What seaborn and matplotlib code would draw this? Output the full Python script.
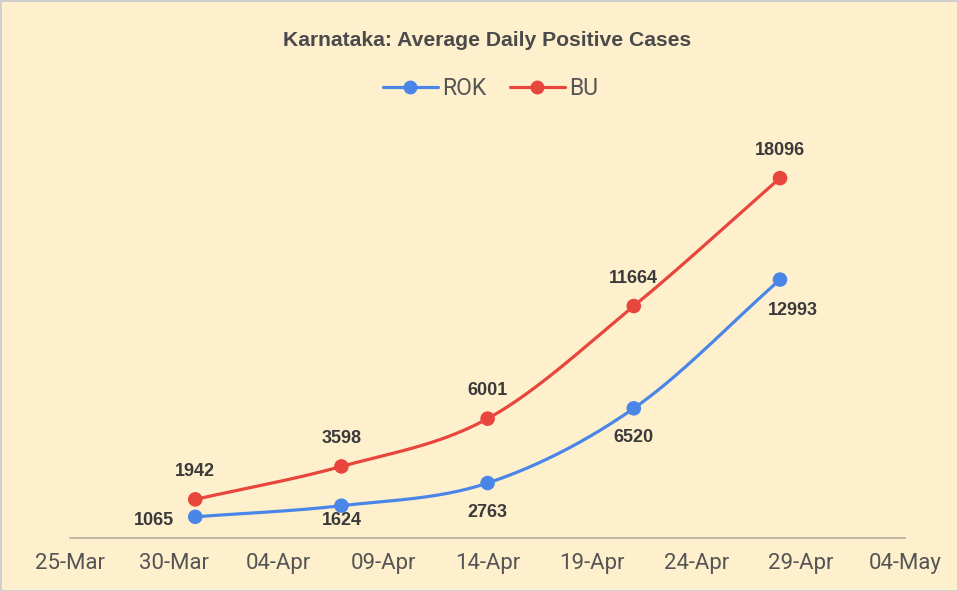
import numpy as np
import pandas as pd
import matplotlib
matplotlib.use("Agg")
import matplotlib.pyplot as plt
import matplotlib.dates as mdates
from matplotlib.lines import Line2D
import seaborn as sns

# ---- data ----
dates = ["2021-03-31", "2021-04-07", "2021-04-14", "2021-04-21", "2021-04-28"]
rok = [1065, 1624, 2763, 6520, 12993]
bu = [1942, 3598, 6001, 11664, 18096]
tick_dates = ["2021-03-25", "2021-03-30", "2021-04-04", "2021-04-09", "2021-04-14",
              "2021-04-19", "2021-04-24", "2021-04-29", "2021-05-04"]
title = "Karnataka: Average Daily Positive Cases"

BG = "#FEF0CD"
BLUE = "#4A86E8"
RED = "#E8453C"

sns.set_theme(style="white")
plt.rcParams["font.family"] = ["Roboto", "DejaVu Sans"]
BOLD = ["Liberation Sans", "DejaVu Sans"]

fig = plt.figure(figsize=(9.58, 5.91), dpi=100, facecolor=BG)
fig.patch.set_edgecolor("#cfcfcf")
fig.patch.set_linewidth(2)
ax = fig.add_axes([0.073, 0.0897, 0.872, 0.673])
ax.set_facecolor(BG)

x = mdates.date2num(pd.to_datetime(dates))


def smooth(xs, ys, n=40):
    xs = np.asarray(xs, float)
    ys = np.asarray(ys, float)
    m = np.zeros_like(ys)
    m[1:-1] = (ys[2:] - ys[:-2]) / (xs[2:] - xs[:-2])
    m[0] = (ys[1] - ys[0]) / (xs[1] - xs[0])
    m[-1] = (ys[-1] - ys[-2]) / (xs[-1] - xs[-2])
    ox, oy = [], []
    for i in range(len(xs) - 1):
        h = xs[i + 1] - xs[i]
        t = np.linspace(0, 1, n, endpoint=(i == len(xs) - 2))
        h00 = 2 * t**3 - 3 * t**2 + 1
        h10 = t**3 - 2 * t**2 + t
        h01 = -2 * t**3 + 3 * t**2
        h11 = t**3 - t**2
        ox.append(xs[i] + t * h)
        oy.append(h00 * ys[i] + h10 * h * m[i] + h01 * ys[i + 1] + h11 * h * m[i + 1])
    return np.concatenate(ox), np.concatenate(oy)


for vals, col in [(rok, BLUE), (bu, RED)]:
    sx, sy = smooth(x, vals)
    sns.lineplot(x=sx, y=sy, ax=ax, color=col, linewidth=2.3, sort=False, zorder=2)
    sns.scatterplot(x=x, y=vals, ax=ax, color=col, s=110, edgecolor="none", zorder=3)

ax.set_xlim(mdates.date2num(pd.Timestamp(tick_dates[0])), mdates.date2num(pd.Timestamp(tick_dates[-1])))
ax.set_ylim(0, 20000)

lab_kw = dict(textcoords="offset points", ha="center", va="center",
              fontsize=13, fontweight="bold", color="#3a3a3a", family=BOLD)
rok_off = [(-30, -3), (0, -11), (0, -21), (0, -21), (9, -22)]
for xi, v, off in zip(x, rok, rok_off):
    ax.annotate(f"{v}", (xi, v), xytext=off, **lab_kw)
for xi, v in zip(x, bu):
    ax.annotate(f"{v}", (xi, v), xytext=(0, 20), **lab_kw)

tx = mdates.date2num(pd.to_datetime(tick_dates))
ax.set_xticks(tx)
ax.set_xticklabels([pd.Timestamp(d).strftime("%d-%b") for d in tick_dates],
                   fontsize=16, color="#555555")
ax.tick_params(axis="x", length=0, pad=11)
ax.set_yticks([])
ax.set_xlabel("")
ax.set_ylabel("")
for s in ["top", "right", "left"]:
    ax.spines[s].set_visible(False)
ax.spines["bottom"].set_color("#b5b0a0")
ax.spines["bottom"].set_linewidth(1.2)

fig.text(0.508, 0.932, title, ha="center", va="center", fontsize=15.2,
         fontweight="bold", color="#4a4a4a", family=BOLD)

handles = [Line2D([0], [0], color=BLUE, lw=2.3, marker="o", markersize=9),
           Line2D([0], [0], color=RED, lw=2.3, marker="o", markersize=9)]
leg = fig.legend(handles, ["ROK", "BU"], loc="center", bbox_to_anchor=(0.512, 0.851),
                 ncol=2, frameon=False, fontsize=16.5, handlelength=2.4,
                 columnspacing=1.0, handletextpad=0.2)
for t in leg.get_texts():
    t.set_color("#555555")

fig.savefig("out.png", dpi=100, facecolor=BG, edgecolor=fig.patch.get_edgecolor())
